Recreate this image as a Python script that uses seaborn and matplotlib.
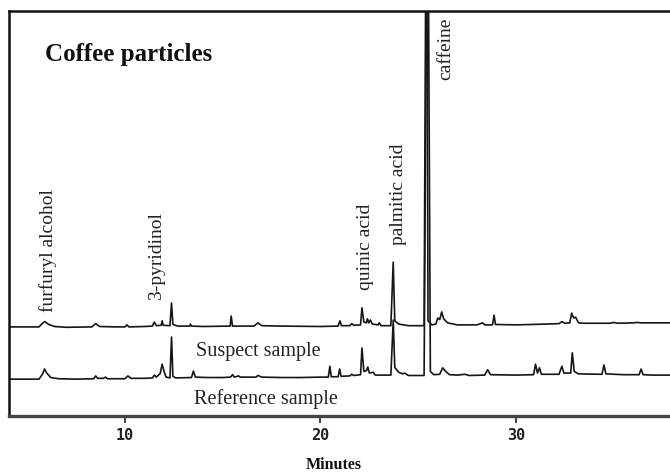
import matplotlib
matplotlib.use("Agg")
import matplotlib.pyplot as plt
import seaborn as sns
import pandas as pd

# ---- data (time in minutes, signal in % of axis height) ----
suspect_time = [4.07, 5.6, 5.8, 5.9, 6.1, 6.4, 7.0, 8.3, 8.5, 8.7, 9.5, 10.0, 10.1, 10.2,
                11.0, 11.4, 11.5, 11.6, 11.85, 11.9, 11.95, 12.3, 12.38, 12.45, 12.7,
                13.3, 13.35, 13.4, 14.0, 15.38, 15.43, 15.5, 16.6, 16.8, 17.0, 18.0,
                20.0, 20.9, 21.0, 21.07, 21.5, 21.6, 21.7, 22.05, 22.12, 22.22, 22.35,
                22.4, 22.47, 22.55, 22.65, 22.95, 23.0, 23.1, 23.6, 23.72, 23.8, 24.0,
                24.5, 25.3, 25.42, 25.5, 25.7, 25.9, 26.0, 26.1, 26.2, 26.3, 26.5, 27.0,
                28.0, 28.3, 28.4, 28.8, 28.88, 28.95, 30.0, 30.8, 31.5, 32.2, 32.35,
                32.5, 32.75, 32.85, 32.95, 33.05, 33.2, 33.5, 34.0, 34.8, 35.0, 35.2,
                36.0, 36.2, 36.4, 37.0, 38.4]
suspect_signal = [22.0, 22.0, 23.0, 23.3, 22.6, 22.1, 21.9, 22.0, 22.8, 22.1, 22.0, 22.0, 22.5, 22.0,
                  22.1, 22.2, 23.2, 22.3, 22.4, 23.5, 22.4, 22.3, 27.9, 22.6, 22.2,
                  22.2, 22.7, 22.2, 22.1, 22.2, 24.7, 22.2, 22.2, 23.0, 22.3, 22.2,
                  22.1, 22.2, 23.5, 22.3, 22.3, 22.8, 22.4, 22.5, 26.7, 23.2, 23.0,
                  24.0, 23.0, 23.7, 22.7, 22.5, 23.0, 22.3, 22.3, 38.0, 23.5, 22.7,
                  22.3, 22.3, 150.0, 23.5, 22.5, 22.7, 24.2, 23.8, 25.7, 24.0, 23.0, 22.5,
                  22.5, 23.0, 22.5, 22.5, 24.9, 22.6, 22.5, 22.6, 22.7, 22.8, 23.3,
                  22.9, 23.0, 25.4, 24.2, 24.4, 23.0, 22.9, 22.9, 22.9, 23.1, 22.9,
                  23.0, 23.1, 23.0, 23.0, 23.0]

reference_time = [4.07, 5.6, 5.8, 5.88, 6.0, 6.2, 6.6, 7.5, 8.4, 8.5, 8.6, 8.9, 9.0, 9.1,
                  10.0, 10.15, 10.3, 11.0, 11.4, 11.5, 11.6, 11.8, 11.9, 12.0, 12.1,
                  12.3, 12.38, 12.45, 12.6, 13.4, 13.5, 13.6, 14.2, 15.0, 15.4, 15.5,
                  15.6, 15.8, 15.9, 16.7, 16.8, 17.0, 18.0, 19.0, 20.0, 20.4, 20.48,
                  20.55, 20.9, 20.98, 21.05, 21.5, 21.6, 21.7, 22.05, 22.12, 22.22,
                  22.35, 22.42, 22.5, 22.7, 22.8, 23.6, 23.72, 23.8, 24.0, 24.2, 24.3,
                  24.5, 25.3, 25.48, 25.62, 25.8, 26.1, 26.25, 26.4, 26.6, 27.0, 27.4,
                  27.6, 28.4, 28.55, 28.7, 30.0, 30.9, 31.0, 31.1, 31.2, 31.3, 32.2,
                  32.35, 32.45, 32.8, 32.88, 32.98, 33.2, 34.4, 34.5, 34.6, 35.5, 36.3,
                  36.4, 36.5, 37.0, 38.4]
reference_signal = [9.1, 9.1, 10.5, 11.6, 10.6, 9.5, 9.2, 9.1, 9.2, 9.9, 9.3, 9.3, 9.6, 9.2,
                    9.2, 9.9, 9.3, 9.3, 9.4, 10.1, 9.6, 10.5, 12.8, 11.0, 9.6,
                    9.4, 19.5, 9.8, 9.4, 9.5, 11.1, 9.6, 9.5, 9.5, 9.6, 10.2,
                    9.6, 9.9, 9.6, 9.6, 10.0, 9.6, 9.5, 9.5, 9.6, 9.6, 12.3,
                    9.7, 9.7, 11.6, 9.8, 9.9, 10.3, 10.0, 10.2, 16.8, 11.0,
                    11.2, 12.1, 10.6, 10.8, 10.1, 10.1, 23.7, 12.0, 10.8, 10.4, 10.6,
                    10.0, 10.0, 150.0, 11.0, 10.2, 10.3, 11.9, 11.0, 10.2, 10.1, 10.3,
                    10.0, 10.1, 11.4, 10.2, 10.1, 10.2, 12.8, 10.6, 11.9, 10.3, 10.3,
                    12.3, 10.6, 10.6, 15.6, 11.0, 10.4, 10.3, 12.6, 10.4, 10.2, 10.2,
                    11.6, 10.2, 10.1, 10.1]

compound_names = ["furfuryl alcohol", "3-pyridinol", "quinic acid", "palmitic acid", "caffeine"]
compound_x = [6.06, 11.6, 22.3, 23.97, 26.4]
compound_y = [25.7, 28.6, 31.0, 42.2, 98.3]

sample_names = ["Suspect sample", "Reference sample"]
sample_x = [13.63, 13.55]
sample_y = [16.0, 4.2]

x_ticks = [10, 20, 30]
x_tick_labels = ["10", "20", "30"]
title_text = "Coffee particles"
x_label = "Minutes"

# ---- build dataframe ----
df = pd.concat([
    pd.DataFrame({"time": suspect_time, "signal": suspect_signal, "sample": "Suspect"}),
    pd.DataFrame({"time": reference_time, "signal": reference_signal, "sample": "Reference"}),
], ignore_index=True)

sns.set_style("white")
plt.rcParams["font.family"] = ["Liberation Serif", "DejaVu Serif"]

fig = plt.figure(figsize=(6.7, 4.74), dpi=100)
ax = fig.add_axes([9 / 670, (474 - 416) / 474, (680 - 9) / 670, (416 - 11) / 474])

sns.lineplot(data=df, x="time", y="signal", units="sample", estimator=None,
             color="#151515", linewidth=1.2, sort=False, ax=ax)

ax.set_xlim(4.066, 38.39)
ax.set_ylim(0, 100)
ax.set_yticks([])
ax.set_xticks(x_ticks)
ax.set_xticklabels(x_tick_labels, fontfamily="DejaVu Sans Mono", fontweight="bold", fontsize=11)
ax.tick_params(axis="x", direction="out", length=5, width=1.2, color="#222222",
               bottom=True, pad=4, labelcolor="#222222")
ax.set_xlabel("")
ax.set_ylabel("")

for side in ["left", "top", "bottom"]:
    ax.spines[side].set_visible(True)
    ax.spines[side].set_linewidth(1.8)
    ax.spines[side].set_color("#111111")
ax.spines["bottom"].set_color("#444444")
ax.spines["bottom"].set_linewidth(2.4)
ax.spines["right"].set_visible(False)

for name, x, y in zip(compound_names, compound_x, compound_y):
    va = "top" if name == "caffeine" else "bottom"
    ax.text(x, y, name, rotation=90, ha="center", va=va, fontsize=14, color="#222222")

for name, x, y in zip(sample_names, sample_x, sample_y):
    ax.text(x, y, name, ha="left", va="center", fontsize=14.5, color="#222222")

ax.text(45 / 670, 1 - 54 / 474, title_text, transform=fig.transFigure, ha="left", va="center",
        fontsize=18, fontweight="bold", color="#111111")

fig.text(334 / 670, 1 - 465 / 474, x_label, ha="center", va="center", fontsize=11.5,
         fontweight="bold", color="#111111")

fig.savefig("out.png", dpi=100)
